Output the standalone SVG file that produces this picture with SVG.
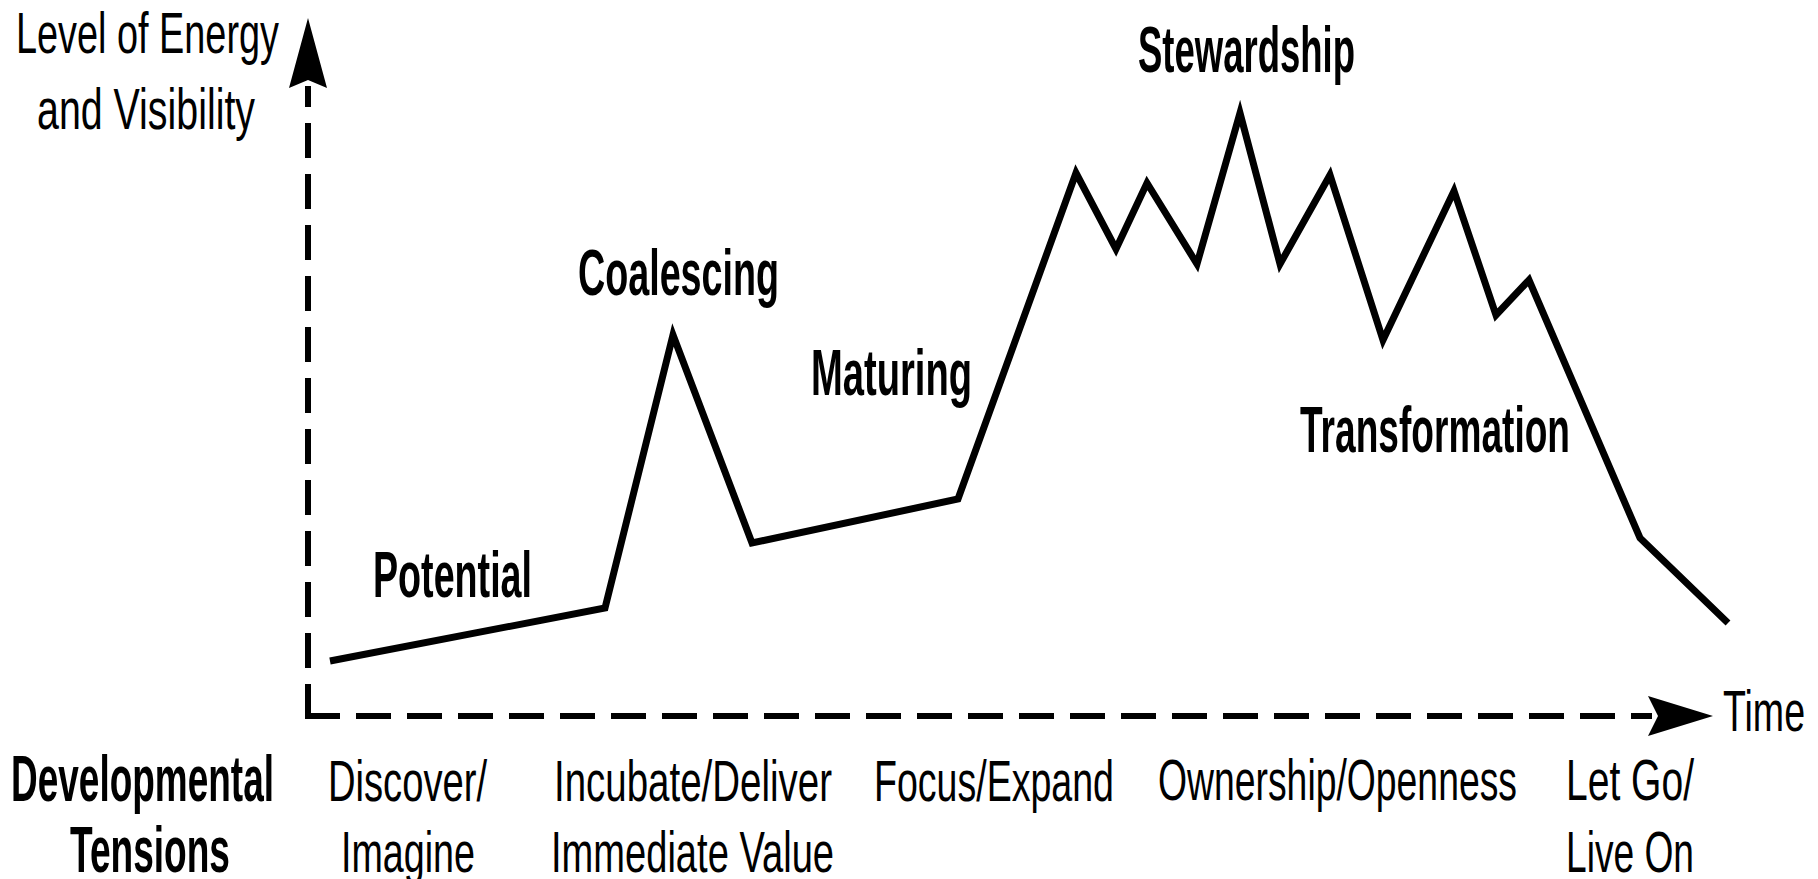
<svg xmlns="http://www.w3.org/2000/svg" width="1818" height="879" viewBox="0 0 1818 879">
  <style>
    .reg { font-family: "Liberation Sans Narrow", "Liberation Sans", Arial, sans-serif; font-size: 58px; fill: #000; }
    .bold { font-family: "Liberation Sans Narrow", "Liberation Sans", Arial, sans-serif; font-size: 65px; font-weight: bold; fill: #000; }
    .axis { fill: none; stroke: #000; stroke-width: 6; stroke-dasharray: 35 16; }
    .curve { fill: none; stroke: #000; stroke-width: 7; stroke-linejoin: miter; stroke-miterlimit: 10; }
    .head { fill: #000; }
  </style>
  <rect width="1818" height="879" fill="#fff"/>

  <g id="connectors">
    <path class="axis" d="M308,719 L308,86"/>
    <path class="axis" d="M305,716 L1652,716"/>
    <polygon class="head" points="308,18 289,88 308,80 327,88"/>
    <polygon class="head" points="1713,716 1648,696 1658,716 1648,736"/>
    <polyline class="curve" points="330,661 605,608 673,335 752,543 958,499 1076,173 1116,249 1147,183 1197,264 1240,113 1280,264 1330,175 1383,340 1454,191 1496,315 1529,280 1640,538 1728,623"/>
  </g>

  <g id="y-axis-label">
    <text class="reg" x="16" y="53" textLength="263" lengthAdjust="spacingAndGlyphs">Level of Energy</text>
    <text class="reg" x="37" y="129" textLength="218" lengthAdjust="spacingAndGlyphs">and Visibility</text>
  </g>
  <g id="x-axis-label">
    <text class="reg" x="1723" y="731" textLength="82" lengthAdjust="spacingAndGlyphs">Time</text>
  </g>

  <g id="potential">
    <text class="bold" x="373" y="597" textLength="159" lengthAdjust="spacingAndGlyphs">Potential</text>
  </g>
  <g id="coalescing">
    <text class="bold" x="578" y="295" textLength="201" lengthAdjust="spacingAndGlyphs">Coalescing</text>
  </g>
  <g id="maturing">
    <text class="bold" x="811" y="395" textLength="161" lengthAdjust="spacingAndGlyphs">Maturing</text>
  </g>
  <g id="stewardship">
    <text class="bold" x="1138" y="72" textLength="217" lengthAdjust="spacingAndGlyphs">Stewardship</text>
  </g>
  <g id="transformation">
    <text class="bold" x="1300" y="452" textLength="270" lengthAdjust="spacingAndGlyphs">Transformation</text>
  </g>

  <g id="developmental-tensions">
    <text class="bold" x="11" y="801" textLength="263" lengthAdjust="spacingAndGlyphs">Developmental</text>
    <text class="bold" x="70" y="872" textLength="160" lengthAdjust="spacingAndGlyphs">Tensions</text>
  </g>
  <g id="discover-imagine">
    <text class="reg" x="328" y="801" textLength="159" lengthAdjust="spacingAndGlyphs">Discover/</text>
    <text class="reg" x="341" y="872" textLength="134" lengthAdjust="spacingAndGlyphs">Imagine</text>
  </g>
  <g id="incubate-deliver">
    <text class="reg" x="554" y="801" textLength="278" lengthAdjust="spacingAndGlyphs">Incubate/Deliver</text>
    <text class="reg" x="551" y="872" textLength="283" lengthAdjust="spacingAndGlyphs">Immediate Value</text>
  </g>
  <g id="focus-expand">
    <text class="reg" x="874" y="801" textLength="240" lengthAdjust="spacingAndGlyphs">Focus/Expand</text>
  </g>
  <g id="ownership-openness">
    <text class="reg" x="1158" y="800" textLength="359" lengthAdjust="spacingAndGlyphs">Ownership/Openness</text>
  </g>
  <g id="letgo-liveon">
    <text class="reg" x="1566" y="800" textLength="128" lengthAdjust="spacingAndGlyphs">Let Go/</text>
    <text class="reg" x="1566" y="872" textLength="128" lengthAdjust="spacingAndGlyphs">Live On</text>
  </g>
</svg>
